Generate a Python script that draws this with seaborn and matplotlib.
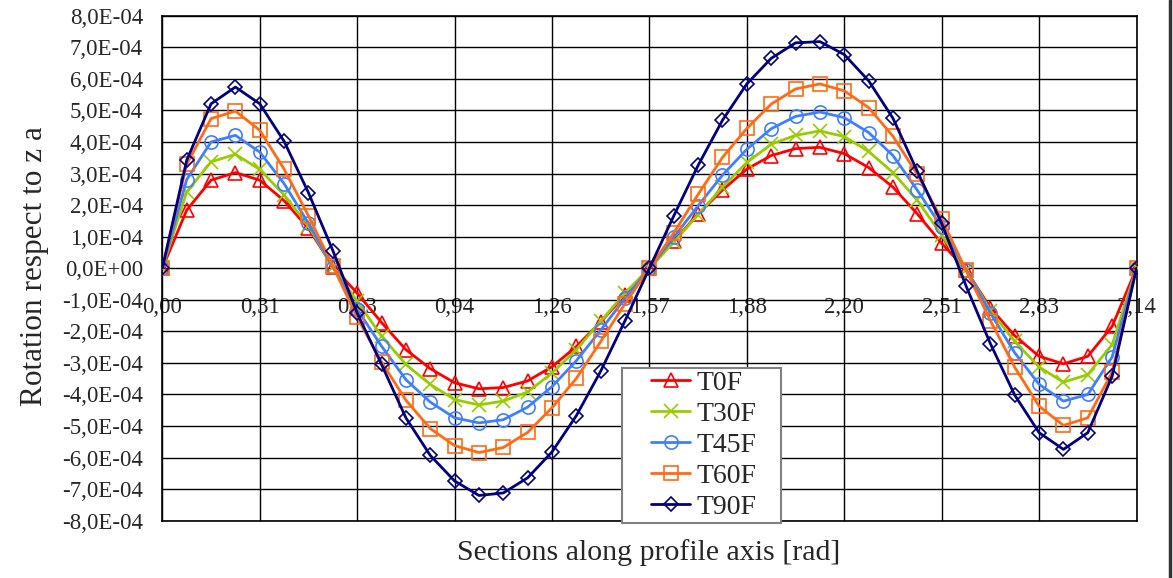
import numpy as np
import matplotlib
matplotlib.use("Agg")
import matplotlib.pyplot as plt
import seaborn as sns
import matplotlib.ticker as mtick
from matplotlib.path import Path
from matplotlib.lines import Line2D
from matplotlib.transforms import Bbox, TransformedBbox

# Sections along the profile (41 sections from 0 to pi)
section = np.arange(41)
x_rad = section * np.pi / 40

# Rotation values, in units of 1e-4
t0f = [0, 1.84, 2.79, 3.03, 2.79, 2.14, 1.26, 0.05, -0.79, -1.72,
       -2.58, -3.18, -3.63, -3.82, -3.78, -3.57, -3.12, -2.48, -1.70, -0.85,
       0, 0.86, 1.72, 2.48, 3.14, 3.57, 3.79, 3.83, 3.63, 3.19,
       2.57, 1.72, 0.79, -0.05, -1.26, -2.14, -2.79, -3.03, -2.79, -1.84, 0]
t30f = [0, 2.42, 3.37, 3.61, 3.13, 2.32, 1.34, 0.05, -1.05, -2.15,
        -3.05, -3.68, -4.16, -4.33, -4.21, -3.92, -3.32, -2.58, -1.68, -0.78,
        0, 0.82, 1.70, 2.57, 3.35, 3.93, 4.21, 4.35, 4.17, 3.70,
        3.03, 2.15, 1.05, -0.05, -1.34, -2.32, -3.13, -3.61, -3.37, -2.42, 0]
t45f = [0, 2.81, 4.00, 4.21, 3.68, 2.68, 1.42, 0.05, -1.30, -2.47,
        -3.53, -4.24, -4.74, -4.90, -4.80, -4.40, -3.75, -2.93, -1.96, -0.95,
        0, 0.98, 1.98, 2.95, 3.77, 4.42, 4.81, 4.95, 4.77, 4.30,
        3.57, 2.47, 1.30, -0.05, -1.42, -2.68, -3.68, -4.21, -4.00, -2.81, 0]
t60f = [0, 3.29, 4.74, 4.98, 4.37, 3.14, 1.66, 0.07, -1.56, -2.97,
        -4.18, -5.08, -5.62, -5.84, -5.68, -5.20, -4.42, -3.49, -2.32, -1.12,
        0, 1.12, 2.34, 3.51, 4.43, 5.20, 5.68, 5.84, 5.62, 5.09,
        4.18, 2.97, 1.56, -0.07, -1.66, -3.14, -4.37, -4.98, -4.74, -3.29, 0]
t90f = [0, 3.42, 5.21, 5.74, 5.21, 4.02, 2.39, 0.56, -1.42, -3.05,
        -4.74, -5.93, -6.74, -7.20, -7.12, -6.64, -5.82, -4.67, -3.26, -1.66,
        0, 1.66, 3.26, 4.69, 5.84, 6.65, 7.14, 7.18, 6.77, 5.94,
        4.75, 3.07, 1.42, -0.56, -2.39, -4.02, -5.21, -5.74, -5.21, -3.42, 0]

series_names = ["T0F", "T30F", "T45F", "T60F", "T90F"]
series_vals = [t0f, t30f, t45f, t60f, t90f]
x_tick_labels = ["0,00", "0,31", "0,63", "0,94", "1,26", "1,57",
                 "1,88", "2,20", "2,51", "2,83", "3,14"]

colors = ["#FF0000", "#99CC00", "#3F7FFF", "#FF6A13", "#000080"]
markers = ["^", "x", "o", "s", "D"]
msizes = [10, 10, 9.5, 9.5, 7.5]

sns.set_style("white")
plt.rcParams["font.family"] = ["Liberation Serif", "DejaVu Serif"]

fig = plt.figure(figsize=(11.73, 5.78), dpi=100)
ax = fig.add_axes([0.1384, 0.0991, 0.8305, 0.8737])

for name, vals, c, m, ms in zip(series_names, series_vals, colors, markers, msizes):
    sns.lineplot(x=x_rad, y=np.array(vals) * 1e-4, ax=ax, color=c, lw=2.0,
                 marker=m, markersize=ms, mfc="none", mec=c, mew=1.2,
                 label=name, zorder=3)

# axes, grid
ax.set_xlim(0, np.pi)
ax.set_ylim(-8e-4, 8e-4)
ticks = np.arange(11) * np.pi / 10
ax.set_xticks(ticks)
ax.set_yticks(np.arange(-8, 9) * 1e-4)
ax.yaxis.set_major_formatter(mtick.FuncFormatter(lambda v, p: f"{v:.1E}".replace(".", ",")))
ax.tick_params(axis="x", length=0, labelbottom=False)
ax.tick_params(axis="y", length=0, pad=14, labelsize=16.5)
ax.grid(True, color="black", lw=1)
ax.set_axisbelow(True)
for s in ax.spines.values():
    s.set_color("black")
    s.set_linewidth(1.2)
ax.set_xlabel("")
ax.set_ylabel("")

# x tick labels sit on the zero line
sec = ax.secondary_xaxis(0, transform=ax.transData)
sec.set_xticks(ticks, x_tick_labels)
sec.tick_params(length=0, pad=21, labelsize=16.5)
sec.spines["bottom"].set_visible(False)

# axis titles
fig.text(649 / 1173, 1 - 553 / 578, "Sections along profile axis [rad]",
         ha="center", va="center", fontsize=21.5)
yl = fig.text(35 / 1173, 1 - 406 / 578, "Rotation respect to z axis",
              rotation=90, ha="center", va="bottom", fontsize=22.5)
yl.set_clip_box(TransformedBbox(Bbox([[0, 0], [1, 1 - 128 / 578]]), fig.transFigure))
yl.set_clip_on(True)

# legend
leg = ax.legend(loc="lower left", bbox_to_anchor=(0.5017, 0.0015), borderaxespad=0,
                borderpad=0, fontsize=20, handlelength=1.4, handletextpad=0.22,
                labelspacing=0.2, fancybox=False, framealpha=1)


def wide_box(x0, y0, width, height, mutation_size):
    pl, pr, pv = 1.05 * mutation_size, 0.9 * mutation_size, 0.1 * mutation_size
    return Path([(x0 - pl, y0 - pv), (x0 + width + pr, y0 - pv),
                 (x0 + width + pr, y0 + height + pv), (x0 - pl, y0 + height + pv),
                 (x0 - pl, y0 - pv)], closed=True)


frame = leg.get_frame()
frame.set_boxstyle(wide_box)
frame.set_edgecolor("#808080")
frame.set_linewidth(1.5)

# picture border on the right
fig.add_artist(Line2D([1169.5 / 1173] * 2, [0, 1], transform=fig.transFigure,
                      color="#333333", lw=2.5))

fig.savefig("out.png", dpi=100)
